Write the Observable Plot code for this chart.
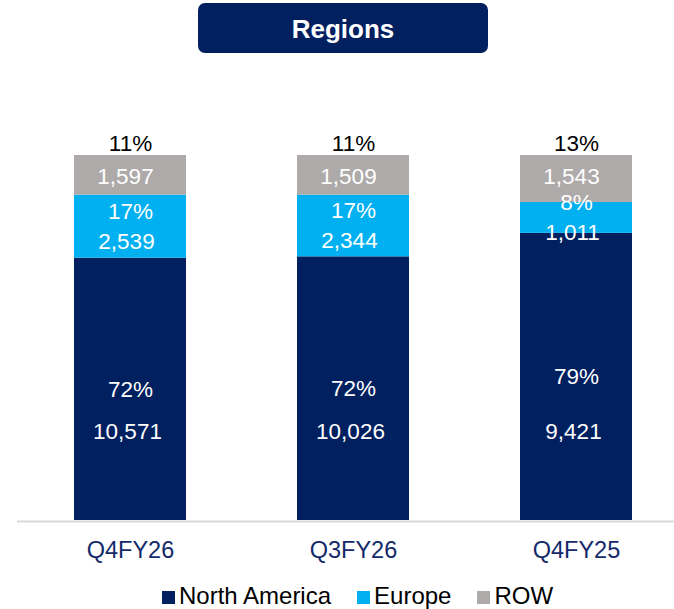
<!DOCTYPE html>
<html>
<head>
<meta charset="utf-8">
<script src="https://cdn.jsdelivr.net/npm/d3@7"></script>
<script src="https://cdn.jsdelivr.net/npm/@observablehq/plot@0.6"></script>
<style>
  html, body { margin: 0; padding: 0; background: #fff; width: 674px; height: 609px; overflow: hidden; }
  body { font-family: "Liberation Sans", Arial, sans-serif; position: relative; }
  #titlebox {
    position: absolute; left: 198px; top: 3px; width: 290px; height: 50px; box-sizing: border-box;
    padding-top: 3px;
    background: #002060; border-radius: 7px; color: #fff; font-weight: bold;
    font-size: 26px; display: flex; align-items: center; justify-content: center;
  }
  #chart { position: absolute; left: 0; top: 56px; }
  #legend {
    position: absolute; left: 162px; top: 584px; display: flex; align-items: center;
    font-size: 24px; line-height: 23px; color: #000; white-space: nowrap;
  }
  #legend .item { display: flex; align-items: center; margin-right: 26px; }
  #legend .sw { width: 13px; height: 13px; margin-right: 4px; margin-top: 3px; }
</style>
</head>
<body>
<div id="titlebox">Regions</div>
<div id="chart"></div>
<div id="legend"></div>
<script>
const quarters = ["Q4FY26", "Q3FY26", "Q4FY25"];
const regions = ["North America", "Europe", "ROW"];
const northAmerica = [10571, 10026, 9421];
const europe = [2539, 2344, 1011];
const rowValues = [1597, 1509, 1543];
const colors = ["#002060", "#00B0F0", "#AEAAAA"];

const seriesByRegion = {"North America": northAmerica, "Europe": europe, "ROW": rowValues};
const totals = quarters.map((q, i) => northAmerica[i] + europe[i] + rowValues[i]);
const data = [];
regions.forEach(r => quarters.forEach((q, i) => {
  data.push({quarter: q, region: r, value: seriesByRegion[r][i], total: totals[i]});
}));

const fmt = d3.format(",");
const pct = d => Math.round(d.value / d.total * 100) + "%";
const only = (r, f) => d => d.region === r ? f(d) : null;
const stackOpts = {offset: "normalize", x: "quarter", y: "value"};
const font = "\"Liberation Sans\", Arial, sans-serif";

const chart = Plot.plot({
  width: 674,
  height: 524,
  marginTop: 99,
  marginBottom: 60,
  marginLeft: 17,
  marginRight: 0,
  style: {fontFamily: font, background: "transparent", overflow: "visible"},
  x: {domain: quarters, range: [18, 687], paddingInner: 0.5, paddingOuter: 0.25, label: null},
  y: {domain: [0, 1], axis: null},
  color: {domain: regions, range: colors},
  marks: [
    Plot.ruleY([0], {stroke: "#d9d9d9", strokeWidth: 2, dy: 1}),
    Plot.barY(data, Plot.stackY({...stackOpts, fill: "region"})),
    Plot.axisX({tickSize: 0, tickPadding: 21, fontSize: 23.5, color: "#142a6a", label: null}),
    // North America
    Plot.text(data, Plot.stackY({...stackOpts, text: only("North America", pct), fill: "#fff", fontSize: 22.5})),
    Plot.text(data, Plot.stackY1({...stackOpts, text: only("North America", d => fmt(d.value)), fill: "#fff", fontSize: 22.5, dy: -89, dx: -3})),
    // Europe
    Plot.text(data, Plot.stackY({...stackOpts, text: only("Europe", pct), fill: "#fff", fontSize: 22.5, dy: -15})),
    Plot.text(data, Plot.stackY({...stackOpts, text: only("Europe", d => fmt(d.value)), fill: "#fff", fontSize: 22.5, dy: 15, dx: -4})),
    // ROW
    Plot.text(data, Plot.stackY2({...stackOpts, text: only("ROW", pct), fill: "#000", fontSize: 22.5, dy: -12})),
    Plot.text(data, Plot.stackY2({...stackOpts, text: only("ROW", d => fmt(d.value)), fill: "#fff", fontSize: 22.5, dy: 21, dx: -5}))
  ]
});
document.getElementById("chart").appendChild(chart);

const legend = document.getElementById("legend");
regions.forEach((r, i) => {
  const item = document.createElement("div");
  item.className = "item";
  const sw = document.createElement("span");
  sw.className = "sw";
  sw.style.background = colors[i];
  const label = document.createElement("span");
  label.textContent = r;
  item.appendChild(sw);
  item.appendChild(label);
  legend.appendChild(item);
});
</script>
</body>
</html>
